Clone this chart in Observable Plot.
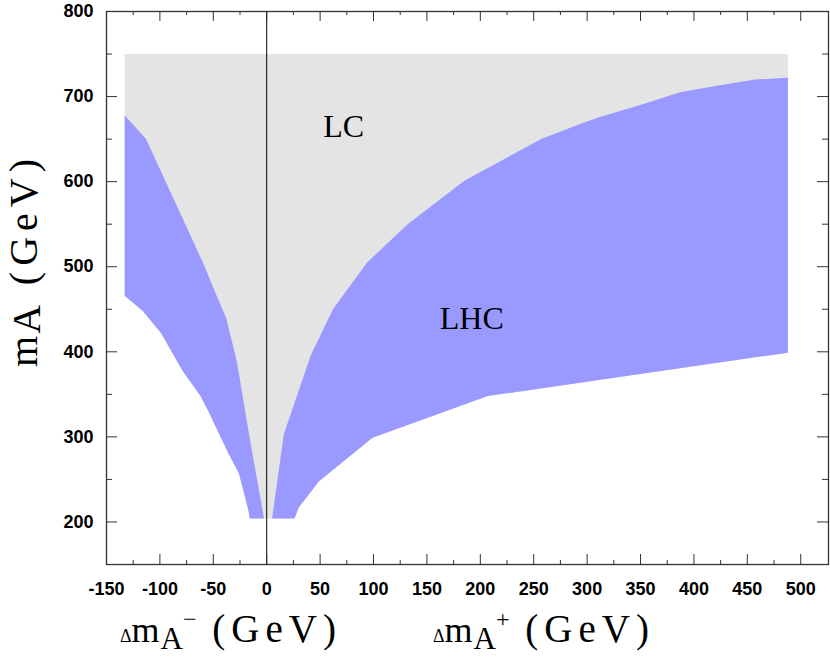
<!DOCTYPE html>
<html><head><meta charset="utf-8">
<script src="https://cdn.jsdelivr.net/npm/d3@7"></script>
<script src="https://cdn.jsdelivr.net/npm/@observablehq/plot@0.6"></script>
<style>body{margin:0;background:#fff}</style>
</head><body><div id="chart"></div>
<script>
// ---- scales / ticks ----
const xDomain = [-150, 526];
const yDomain = [150, 800];
const xTickLabels = [-150, -100, -50, 0, 50, 100, 150, 200, 250, 300, 350, 400, 450, 500];
const xMinorTicks = [-125, -75, -25, 25, 75, 125, 175, 225, 275, 325, 375, 425, 475];
const yTickLabels = [200, 300, 400, 500, 600, 700, 800];
const yMajorTicks = [200, 300, 400, 500, 600, 700];
const yMinorTicks = [250, 350, 450, 550, 650, 750];

// ---- LC region bounds (mA in GeV) ----
const lcTopMA = [750, 750];
const lcTopDm = [-133, 488];

// ---- LHC band for Δm_A^- : outer (lower-left) boundary, bottom -> top ----
const leftOuterDm = [-16, -17, -26, -36, -55, -62, -79, -99, -116, -133, -133];
const leftOuterMA = [204, 213, 257, 281, 331, 348, 378, 422, 448, 466, 678];
// inner (gray/blue) boundary, top -> bottom
const leftInnerDm = [-133, -113, -59, -49, -38, -28, -16, -2.5];
const leftInnerMA = [678, 650, 503, 472, 440, 389, 299, 204];

// ---- LHC band for Δm_A^+ : upper boundary, bottom -> top ----
const rightUpperDm = [5, 16, 41, 62, 69, 94, 132, 185, 257, 294, 312, 352, 387, 423, 457, 488];
const rightUpperMA = [204, 303, 395, 450, 462, 505, 550, 601, 650, 668, 676, 691, 705, 713, 720, 722];
// lower boundary, left -> right
const rightLowerDm = [26, 30, 49, 99, 207, 488];
const rightLowerMA = [204, 217, 248, 299, 348, 399];

// ---- region labels ----
const regionNames = ["LC", "LHC"];
const regionDm = [72, 192];
const regionMA = [665, 439];

const pts = (xs, ys) => xs.map((d, i) => ({dm: d, mA: ys[i]}));
const rev = a => a.slice().reverse();

const lcRegion = [
  ...pts(lcTopDm, lcTopMA),
  ...rev(pts(rightLowerDm, rightLowerMA)),
  ...pts(leftOuterDm, leftOuterMA)
];
const leftBand = [...pts(leftOuterDm, leftOuterMA), ...pts(leftInnerDm, leftInnerMA)];
const rightBand = [...pts(rightUpperDm, rightUpperMA), ...rev(pts(rightLowerDm, rightLowerMA))];
const labels = regionNames.map((n, i) => ({name: n, dm: regionDm[i], mA: regionMA[i]}));

const W = 830, H = 659, mL = 106, mR = 2, mT = 11, mB = 95;
const iw = W - mL - mR, ih = H - mT - mB;
const axisColor = "#333";
const serif = "Liberation Serif, Times New Roman, serif";
const tickFont = {fontSize: 18, fontWeight: "bold", fontFamily: "Liberation Sans, Arial, sans-serif"};

const chart = Plot.plot({
  width: W, height: H,
  marginLeft: mL, marginRight: mR, marginTop: mT, marginBottom: mB,
  x: {domain: xDomain},
  y: {domain: yDomain},
  marks: [
    Plot.line(lcRegion, {x: "dm", y: "mA", fill: "#e4e4e4", stroke: "none"}),
    Plot.line(leftBand, {x: "dm", y: "mA", fill: "#9999ff", stroke: "none"}),
    Plot.line(rightBand, {x: "dm", y: "mA", fill: "#9999ff", stroke: "none"}),
    Plot.ruleX([0], {stroke: "#000", strokeWidth: 1}),
    Plot.text(labels, {x: "dm", y: "mA", text: "name", fontSize: 32, fontFamily: serif, fill: "#000", letterSpacing: "2px"}),
    // inward ticks: bottom / top
    Plot.tickX(xTickLabels, {x: d => d, insetTop: ih - 10, stroke: axisColor}),
    Plot.tickX(xMinorTicks, {x: d => d, insetTop: ih - 4, stroke: axisColor}),
    Plot.tickX(xTickLabels, {x: d => d, insetBottom: ih - 10, stroke: axisColor}),
    Plot.tickX(xMinorTicks, {x: d => d, insetBottom: ih - 4, stroke: axisColor}),
    // inward ticks: left / right
    Plot.tickY(yMajorTicks, {y: d => d, insetRight: iw - 11, stroke: axisColor}),
    Plot.tickY(yMinorTicks, {y: d => d, insetRight: iw - 6, stroke: axisColor}),
    Plot.tickY(yMajorTicks, {y: d => d, insetLeft: iw - 11, stroke: axisColor}),
    Plot.tickY(yMinorTicks, {y: d => d, insetLeft: iw - 6, stroke: axisColor}),
    Plot.axisX(xTickLabels, {tickSize: 0, tickPadding: 18, tickFormat: d => String(d), label: null, fill: "#000", ...tickFont}),
    Plot.axisY(yTickLabels, {tickSize: 0, tickPadding: 13, tickFormat: d => String(d), label: null, fill: "#000", ...tickFont}),
    Plot.frame({stroke: axisColor, strokeWidth: 1.3})
  ]
});
document.getElementById("chart").appendChild(chart);

// ---- axis titles with sub/superscripts ----
const svg = d3.select(chart);
function title(g, parts, size, anchor) {
  const t = g.append("text").attr("font-family", serif).attr("font-size", size)
    .attr("fill", "#000").attr("text-anchor", anchor);
  parts.forEach(p => {
    const s = t.append("tspan").text(p.t);
    if (p.size) s.attr("font-size", p.size);
    if (p.dy) s.attr("dy", p.dy);
    if (p.ls) s.attr("letter-spacing", p.ls);
  });
  return t;
}
title(svg.append("g").attr("transform", "translate(120,642)"),
  [{t: "Δ", size: 18}, {t: "m", ls: 1}, {t: "A", dy: 7, size: 31}, {t: "−", dy: -22, size: 24}, {t: " (GeV)", dy: 15, ls: 6, size: 39}], 36, "start");
title(svg.append("g").attr("transform", "translate(433,642)"),
  [{t: "Δ", size: 18}, {t: "m", ls: 1}, {t: "A", dy: 7, size: 31}, {t: "+", dy: -22, size: 24}, {t: " (GeV)", dy: 15, ls: 6, size: 39}], 36, "start");
title(svg.append("g").attr("transform", "translate(37,260) rotate(-90)"),
  [{t: "m", ls: 2}, {t: "A", dy: 3, ls: 6}, {t: " (GeV)", dy: -3, ls: 6}], 40, "middle");
</script></body></html>
